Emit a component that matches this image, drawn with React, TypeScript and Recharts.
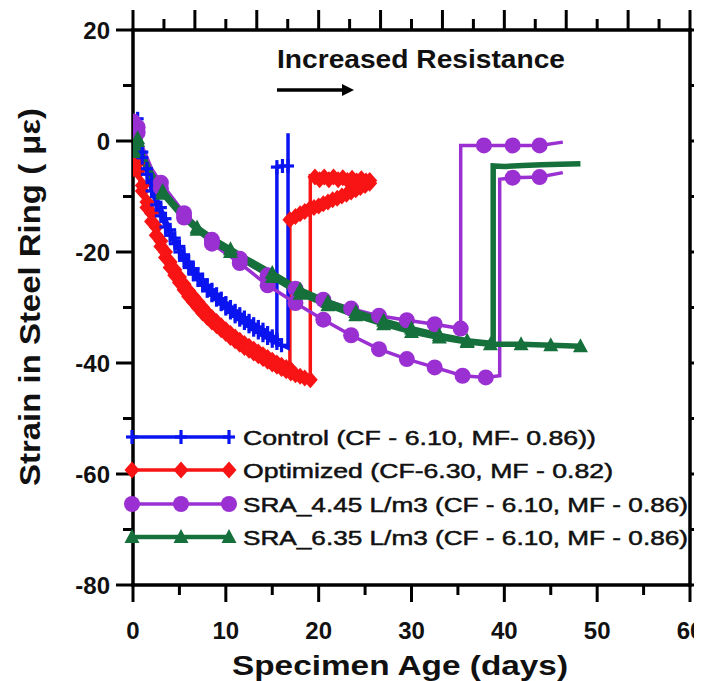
import React from 'react';
import { LineChart, Line, XAxis, YAxis } from 'recharts';

type Pt = [number, number, number?];

// [day, strain, marker flag (0 = no marker)]
const controlA: Pt[] = [
  [0, 0], [0.5, 4], [1, -2], [1.5, -5], [2, -7.5], [2.5, -10], [3, -12], [3.5, -14], [4, -16], [4.5, -17.5],
  [5, -19], [5.5, -20.5], [6, -21.8], [6.5, -23], [7, -24], [7.5, -25], [8, -26], [8.5, -26.8], [9, -27.6],
  [9.5, -28.4], [10, -29.2], [10.5, -29.9], [11, -30.6], [11.5, -31.2], [12, -31.8], [12.5, -32.4], [13, -33],
  [13.5, -33.5], [14, -34], [14.5, -34.6], [15, -35.2], [15.5, -35.8], [15.5, -4.7], [16.1, -4.5],
];
const controlB: Pt[] = [
  [0, 1], [0.5, 3], [1, -3], [1.5, -6], [2, -9], [2.5, -11.5], [3, -13.5], [3.5, -15.5], [4, -17], [4.5, -18.5],
  [5, -20], [5.5, -21.5], [6, -22.8], [6.5, -24], [7, -25], [7.5, -26], [8, -27], [8.5, -27.8], [9, -28.6],
  [9.5, -29.4], [10, -30.2], [10.5, -30.9], [11, -31.6], [11.5, -32.2], [12, -32.8], [12.5, -33.4], [13, -34],
  [13.5, -34.5], [14, -35], [14.5, -35.5], [15, -36], [15.5, -36.4], [16, -36.8], [16.7, -37.3, 0], [16.7, -4.5],
  [16.7, 1.4, 0],
];
const optimizedA: Pt[] = [
  [0, -5], [0.5, -4], [1, -8], [1.5, -11], [2, -13], [2.5, -15.5], [3, -18], [3.5, -20], [4, -21.8], [4.5, -23.2],
  [5, -24.5], [5.5, -25.8], [6, -27], [6.5, -28], [7, -29], [7.5, -30], [8, -31], [8.5, -31.8], [9, -32.5],
  [9.5, -33.3], [10, -34], [10.5, -34.7], [11, -35.3], [11.5, -35.9], [12, -36.5], [12.5, -37], [13, -37.5],
  [13.5, -38], [14, -38.5], [14.5, -39], [15, -39.5], [15.5, -40], [16, -40.4], [16.5, -40.8], [16.9, -41],
  [16.9, -14.2], [17.5, -13.6], [18, -13.1], [18.5, -12.7], [19, -12.3], [19.5, -12], [20, -11.7], [20.5, -11.3],
  [21, -11], [21.5, -10.6], [22, -10.3], [22.5, -9.9], [23, -9.6], [23.5, -9.2], [24, -8.8], [24.5, -8.4],
  [25, -8], [25.5, -7.6],
];
const optimizedB: Pt[] = [
  [0, -4], [0.5, -5.5], [1, -9], [1.5, -12], [2, -14.5], [2.5, -17], [3, -19], [3.5, -21], [4, -22.8], [4.5, -24.2],
  [5, -25.5], [5.5, -26.8], [6, -28], [6.5, -29], [7, -30], [7.5, -31], [8, -31.8], [8.5, -32.6], [9, -33.3],
  [9.5, -34], [10, -34.7], [10.5, -35.4], [11, -36], [11.5, -36.6], [12, -37.2], [12.5, -37.7], [13, -38.2],
  [13.5, -38.7], [14, -39.2], [14.5, -39.7], [15, -40.2], [15.5, -40.6], [16, -41], [16.5, -41.4], [17, -41.8],
  [17.5, -42.1], [18, -42.4], [18.5, -42.7], [19.1, -43], [19.1, -6.3, 0], [19.6, -6.5], [20.1, -7], [20.6, -6.5],
  [21.1, -7], [21.6, -6.5], [22.1, -7], [22.6, -6.6], [23.1, -7.1], [23.6, -6.7], [24.1, -7.2], [24.6, -6.8],
  [25.1, -7.2], [25.5, -7.1],
];
const sra445A: Pt[] = [
  [0, 3.5], [0.5, 2.5], [1, -1, 0], [2, -5, 0], [3, -7.5], [5.5, -13], [8.5, -17.8], [11.5, -21.2], [14.5, -24.2],
  [17.5, -26.6], [20.5, -28.6], [23.5, -30.2], [26.5, -31.5], [29.5, -32.3], [32.5, -33], [35.3, -33.8],
  [35.3, -0.8, 0], [37.8, -0.8], [40.9, -0.8], [43.8, -0.8], [46.3, -0.2, 0],
];
const sra445B: Pt[] = [
  [0, 3], [0.5, 1.5], [1, -2, 0], [2, -6, 0], [3, -8.5], [5.5, -13.8], [8.5, -18.5], [11.5, -22], [14.5, -26],
  [17.5, -29.2], [20.5, -32.2], [23.5, -35], [26.5, -37.5], [29.5, -39.3], [32.5, -40.8], [35.5, -42.3],
  [38, -42.6], [39.5, -42.3, 0], [39.5, -6.9, 0], [40.9, -6.6], [43.8, -6.5], [46.3, -5.7, 0],
];
const sra635A: Pt[] = [
  [0, -1.5], [0.5, 0.5], [1, -2.5, 0], [2, -6, 0], [3.2, -9], [5, -12.5, 0], [6.9, -15.6], [9, -18, 0],
  [10.5, -19.5], [12, -21, 0], [15, -23.8], [18, -26.8], [21, -29], [24, -30.8], [27, -32.4], [30, -33.8],
  [33, -35], [36, -36], [38.8, -36.5, 0], [38.8, -4.5, 0], [40, -4.6, 0], [42, -4.4, 0], [44, -4.3, 0],
  [46, -4.2, 0], [48.2, -4.1, 0],
];
const sra635B: Pt[] = [
  [0, -2], [0.5, 0], [1, -3, 0], [2, -6.5, 0], [3.2, -9.5], [5, -13, 0], [6.9, -16], [9, -18.6, 0],
  [10.5, -20], [12, -21.5, 0], [15, -24.5], [18, -27.5], [21, -29.6], [24, -31.4], [27, -33], [30, -34.4],
  [33, -35.4], [36, -36.2], [38.5, -36.6], [41.8, -36.6], [45, -36.8], [48.2, -37],
];

const xTicks = [0, 5, 10, 15, 20, 25, 30, 35, 40, 45, 50, 55, 60];
const xTopTicks = [0, 3.333, 6.667, 10, 13.333, 16.667, 20, 23.333, 26.667, 30, 33.333, 36.667, 40, 43.333, 46.667, 50, 53.333, 56.667, 60];
const yTicks = [-80, -70, -60, -50, -40, -30, -20, -10, 0, 10, 20];

const legendNames = [
  'Control (CF - 6.10, MF- 0.86))',
  'Optimized (CF-6.30, MF - 0.82)',
  'SRA_4.45 L/m3 (CF - 6.10, MF - 0.86)',
  'SRA_6.35 L/m3 (CF - 6.10, MF - 0.86)',
];
const legendTextLen = [353, 370, 445, 445];

const BLUE = '#0a14f0';
const RED = '#f81414';
const PURPLE = '#9a2fd2';
const GREEN = '#16703c';
const FONT = '"Liberation Sans", Arial, Helvetica, sans-serif';

const toRows = (pts: Pt[]) => pts.map(([x, y, m]) => ({ x, y, m: m === 0 ? 0 : 1 }));

const drawMarker = (shape: string, cx: number, cy: number, color: string, key?: string) => {
  if (shape === 'plus') {
    return (
      <g key={key}>
        <line x1={cx} x2={cx} y1={cy - 7} y2={cy + 7} stroke={color} strokeWidth={3.2} />
        <line x1={cx - 6} x2={cx + 6} y1={cy} y2={cy} stroke={color} strokeWidth={3.2} />
      </g>
    );
  }
  if (shape === 'diamond') {
    return (
      <polygon key={key} points={`${cx},${cy - 8.5} ${cx + 7.5},${cy} ${cx},${cy + 8.5} ${cx - 7.5},${cy}`} fill={color} />
    );
  }
  if (shape === 'circle') {
    return <circle key={key} cx={cx} cy={cy} r={8} fill={color} />;
  }
  return (
    <polygon key={key} points={`${cx},${cy - 8} ${cx + 7.5},${cy + 6} ${cx - 7.5},${cy + 6}`} fill={color} />
  );
};

const makeDot = (shape: string, color: string) => (p: any) => {
  const key = `dot-${p.index}-${p.cx}-${p.cy}`;
  if (!p.payload || p.payload.m === 0 || p.cx == null || p.cy == null) return <g key={key} />;
  return drawMarker(shape, p.cx, p.cy, color, key);
};

const BottomTick = (p: any) => {
  const { x, y, payload } = p;
  const v = payload.value;
  const major = v % 10 === 0;
  return (
    <g>
      <line x1={x} x2={x} y1={y} y2={y + (major ? 17 : 10)} stroke="#000" strokeWidth={3} />
      {major && (
        <text x={x} y={y + 54} textAnchor="middle" fontSize={24} fontWeight="bold" fontFamily={FONT} fill="#111">
          {v}
        </text>
      )}
    </g>
  );
};

const TopTick = (p: any) => {
  const { x, y, index } = p;
  const major = index % 2 === 0;
  return <line x1={x} x2={x} y1={y} y2={y - (major ? 20 : 11)} stroke="#000" strokeWidth={3} />;
};

const LeftTick = (p: any) => {
  const { x, y, payload } = p;
  const v = payload.value;
  const major = v % 20 === 0;
  return (
    <g>
      <line x1={x} x2={x - (major ? 17 : 10)} y1={y} y2={y} stroke="#000" strokeWidth={3} />
      {major && (
        <text x={x - 23} y={y + 8.5} textAnchor="end" fontSize={24} fontWeight="bold" fontFamily={FONT} fill="#111">
          {v}
        </text>
      )}
    </g>
  );
};

const RightTick = (p: any) => {
  const { x, y } = p;
  return <line x1={x} x2={x + 12} y1={y} y2={y} stroke="#000" strokeWidth={3} />;
};

const series = [
  { data: optimizedA, color: RED, shape: 'diamond', width: 3.5 },
  { data: optimizedB, color: RED, shape: 'diamond', width: 3.5 },
  { data: controlA, color: BLUE, shape: 'plus', width: 3.5 },
  { data: controlB, color: BLUE, shape: 'plus', width: 3.5 },
  { data: sra445A, color: PURPLE, shape: 'circle', width: 3.5 },
  { data: sra445B, color: PURPLE, shape: 'circle', width: 3.5 },
  { data: sra635A, color: GREEN, shape: 'triangle', width: 5.5 },
  { data: sra635B, color: GREEN, shape: 'triangle', width: 5.5 },
];

const legendItems = [
  { color: BLUE, shape: 'plus' },
  { color: RED, shape: 'diamond' },
  { color: PURPLE, shape: 'circle' },
  { color: GREEN, shape: 'triangle' },
];

const W = 694;
const H = 673;

export default function App() {
  const axisLine = { stroke: '#000', strokeWidth: 3.5, strokeLinecap: 'square' as const };
  return (
    <div style={{ position: 'relative', width: W, height: H }}>
      <LineChart width={W} height={H} margin={{ top: 2, right: 2, bottom: 0, left: 0 }}>
        <XAxis
          xAxisId="b"
          type="number"
          dataKey="x"
          domain={[0, 60]}
          ticks={xTicks}
          interval={0}
          height={96}
          tickSize={0}
          tickMargin={0}
          tickLine={false}
          axisLine={axisLine}
          tick={<BottomTick />}
          allowDataOverflow
        />
        <XAxis
          xAxisId="t"
          orientation="top"
          type="number"
          dataKey="x"
          domain={[0, 60]}
          ticks={xTopTicks}
          interval={0}
          height={20}
          tickSize={0}
          tickMargin={0}
          tickLine={false}
          axisLine={axisLine}
          tick={<TopTick />}
          allowDataOverflow
        />
        <YAxis
          yAxisId="l"
          type="number"
          domain={[-80, 20]}
          ticks={yTicks}
          interval={0}
          width={125}
          tickSize={0}
          tickMargin={0}
          tickLine={false}
          axisLine={axisLine}
          tick={<LeftTick />}
          allowDataOverflow
        />
        <YAxis
          yAxisId="r"
          orientation="right"
          type="number"
          domain={[-80, 20]}
          ticks={yTicks}
          interval={0}
          width={10}
          tickSize={0}
          tickMargin={0}
          tickLine={false}
          axisLine={axisLine}
          tick={<RightTick />}
          allowDataOverflow
        />
        {series.map((s, i) => (
          <Line
            key={i}
            xAxisId="b"
            yAxisId="l"
            data={toRows(s.data)}
            dataKey="y"
            type="linear"
            stroke={s.color}
            strokeWidth={s.width}
            dot={makeDot(s.shape, s.color)}
            activeDot={false}
            isAnimationActive={false}
            legendType="none"
          />
        ))}
      </LineChart>
      <svg
        width={W}
        height={H}
        style={{ position: 'absolute', left: 0, top: 0, pointerEvents: 'none' }}
        fontFamily={FONT}
      >
        <text
          x={32}
          y={289}
          transform="rotate(-90 32 289)"
          textAnchor="middle"
          fontSize={30}
          fontWeight="bold"
          fill="#111"
          textLength={378}
          lengthAdjust="spacingAndGlyphs"
        >
          Strain in Steel Ring ( με)
        </text>
        <text
          x={224}
          y={667}
          fontSize={28}
          fontWeight="bold"
          fill="#111"
          textLength={336}
          lengthAdjust="spacingAndGlyphs"
        >
          Specimen Age (days)
        </text>
        <text
          x={269}
          y={60}
          fontSize={25}
          fontWeight="bold"
          fill="#111"
          textLength={288}
          lengthAdjust="spacingAndGlyphs"
        >
          Increased Resistance
        </text>
        <line x1={269} x2={336} y1={82} y2={82} stroke="#000" strokeWidth={3.5} />
        <polygon points="334,76 346,82 334,88" fill="#000" />
        {legendItems.map((it, i) => {
          const y = [429, 462, 496, 529][i];
          return (
            <g key={i}>
              <line x1={124} x2={221} y1={y} y2={y} stroke={it.color} strokeWidth={it.shape === 'triangle' ? 4.5 : 3.5} />
              {[124, 173, 221].map((mx, j) => drawMarker(it.shape, mx, y, it.color, `lg-${i}-${j}`))}
              <text
                x={235}
                y={y + 7.5}
                fontSize={21}
                fill="#111"
                stroke="#111"
                strokeWidth={0.5}
                textLength={legendTextLen[i]}
                lengthAdjust="spacingAndGlyphs"
              >
                {legendNames[i]}
              </text>
            </g>
          );
        })}
      </svg>
    </div>
  );
}
